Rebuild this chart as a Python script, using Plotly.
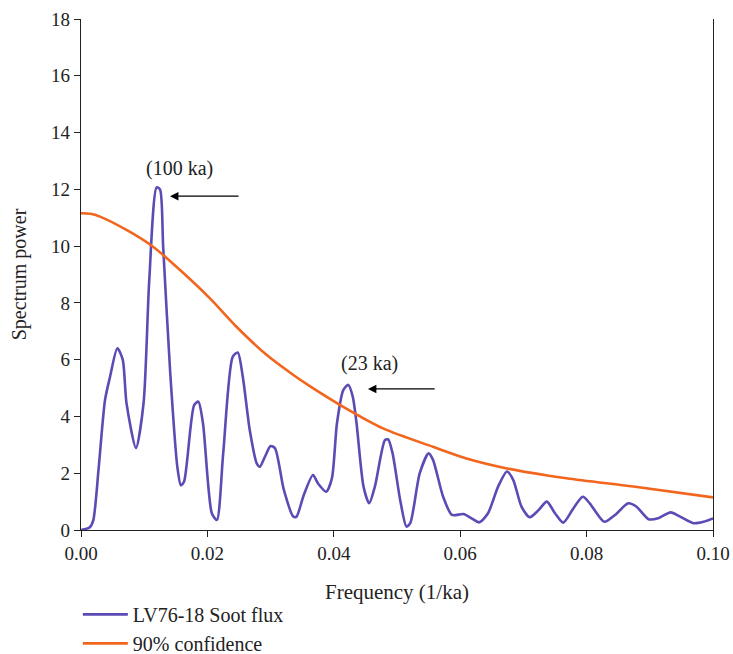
import plotly.graph_objects as go

# Blue series: LV76-18 Soot flux spectrum
freq_soot = [0.0, 0.0014, 0.00195, 0.0028, 0.0038, 0.0046, 0.00575, 0.0066, 0.0072, 0.0087,
             0.0099, 0.0108, 0.01197, 0.0125, 0.0130, 0.0141, 0.01524, 0.0158, 0.0163, 0.0179,
             0.01857, 0.0193, 0.0207, 0.0215, 0.0225, 0.0240, 0.0248, 0.0256, 0.0267, 0.0278,
             0.0283, 0.0291, 0.0300, 0.0307, 0.0321, 0.0336, 0.0341, 0.0352, 0.0367, 0.0375,
             0.0388, 0.0397, 0.0405, 0.0415, 0.0423, 0.0430, 0.0436, 0.0447, 0.0456, 0.0465,
             0.0481, 0.0486, 0.0493, 0.0505, 0.0515, 0.0521, 0.0536, 0.0550, 0.0557, 0.0573,
             0.0587, 0.0605, 0.0618, 0.0630, 0.0644, 0.0660, 0.0674, 0.0684, 0.0697, 0.0710,
             0.0724, 0.0737, 0.0750, 0.0763, 0.0779, 0.0794, 0.0805, 0.0828, 0.0845, 0.0866,
             0.0879, 0.0898, 0.0913, 0.0933, 0.0948, 0.0969, 0.0985, 0.1000]
power_soot = [0.0, 0.1, 0.35, 2.2, 4.58, 5.4, 6.4, 6.0, 4.47, 2.89,
              4.47, 8.8, 12.07, 12.0, 9.98, 5.6, 2.23, 1.58, 1.70, 4.4,
              4.52, 3.76, 0.59, 0.35, 2.7, 6.1, 6.25, 5.4, 3.52, 2.35,
              2.23, 2.58, 2.96, 2.88, 1.41, 0.47, 0.47, 1.2, 1.94, 1.64,
              1.35, 1.82, 3.76, 4.93, 5.11, 4.70, 3.76, 1.53, 0.94, 1.53,
              3.17, 3.19, 2.70, 1.06, 0.12, 0.24, 2.0, 2.70, 2.47, 1.17,
              0.53, 0.56, 0.41, 0.27, 0.59, 1.53, 2.06, 1.76, 0.82, 0.45,
              0.70, 1.0, 0.59, 0.26, 0.76, 1.17, 0.94, 0.29, 0.53, 0.94,
              0.82, 0.38, 0.41, 0.62, 0.47, 0.24, 0.29, 0.41]

# Orange series: 90% confidence
freq_conf = [0.0, 0.0015, 0.0030, 0.0072, 0.0114, 0.0151, 0.0204, 0.0246, 0.0294, 0.0336,
             0.0362, 0.0415, 0.0478, 0.0557, 0.0610, 0.0674, 0.0768, 0.0874, 0.1000]
power_conf = [11.16, 11.14, 11.04, 10.57, 9.98, 9.27, 8.16, 7.16, 6.16, 5.46,
              5.07, 4.34, 3.58, 2.93, 2.52, 2.17, 1.82, 1.53, 1.15]

x_ticks = [0.0, 0.02, 0.04, 0.06, 0.08, 0.10]
x_tick_labels = ["0.00", "0.02", "0.04", "0.06", "0.08", "0.10"]
y_ticks = [0, 2, 4, 6, 8, 10, 12, 14, 16, 18]

FONT = "Liberation Serif"
BLUE = "#5a4bb5"
ORANGE = "#f2651c"
TXT = "#222222"

fig = go.Figure()
fig.add_trace(go.Scatter(x=freq_soot, y=power_soot, mode="lines", name="LV76-18 Soot flux",
                         line=dict(color=BLUE, width=2.6, shape="spline", smoothing=0.7)))
fig.add_trace(go.Scatter(x=freq_conf, y=power_conf, mode="lines", name="90% confidence",
                         line=dict(color=ORANGE, width=2.6, shape="spline", smoothing=0.8)))

# Annotations with arrows
fig.add_annotation(x=0.01408, y=11.76, ax=0.02516, ay=11.76, xref="x", yref="y",
                   axref="x", ayref="y", text="", showarrow=True, arrowhead=2,
                   arrowsize=1.3, arrowwidth=1.3, arrowcolor="black")
fig.add_annotation(x=0.0156, y=12.75, xref="x", yref="y", text="(100 ka)", showarrow=False,
                   font=dict(family=FONT, size=20, color=TXT))
fig.add_annotation(x=0.0454, y=4.97, ax=0.0562, ay=4.97, xref="x", yref="y",
                   axref="x", ayref="y", text="", showarrow=True, arrowhead=2,
                   arrowsize=1.3, arrowwidth=1.3, arrowcolor="black")
fig.add_annotation(x=0.0456, y=5.88, xref="x", yref="y", text="(23 ka)", showarrow=False,
                   font=dict(family=FONT, size=20, color=TXT))

fig.update_layout(
    width=733, height=654,
    margin=dict(l=81, r=20, t=19, b=124, autoexpand=False),
    paper_bgcolor="white", plot_bgcolor="white",
    font=dict(family=FONT, size=19, color=TXT),
    showlegend=True,
    legend=dict(x=-0.005, y=-0.127, xanchor="left", yanchor="top", orientation="v",
                font=dict(family=FONT, size=20, color=TXT),
                bgcolor="rgba(0,0,0,0)", itemwidth=45),
    xaxis=dict(range=[0, 0.1], tickvals=x_ticks, ticktext=x_tick_labels,
               showline=True, linecolor=TXT, linewidth=1.3, ticks="outside", ticklen=6,
               tickcolor=TXT, showgrid=False, zeroline=False,
               title=dict(text="Frequency (1/ka)", font=dict(size=21), standoff=21),
               tickfont=dict(size=19)),
    yaxis=dict(range=[0, 18], tickvals=y_ticks, showline=True, linecolor=TXT, linewidth=1.3,
               mirror=True, ticks="outside", ticklen=6, tickcolor=TXT, showgrid=False,
               zeroline=False, title=dict(text="Spectrum power", font=dict(size=20), standoff=19),
               tickfont=dict(size=19)),
)

fig.write_html("out.html")
